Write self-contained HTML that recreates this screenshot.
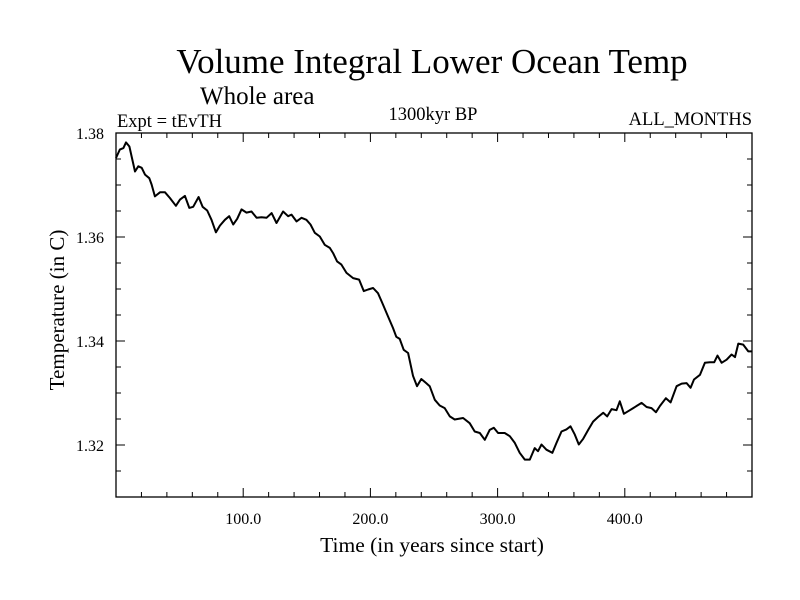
<!DOCTYPE html>
<html><head><meta charset="utf-8"><style>
body{margin:0;background:#fff}
svg{display:block;font-family:"Liberation Serif",serif}
</style></head><body>
<svg id="chart" width="800" height="600">
<text x="432" y="73" font-size="35" text-anchor="middle">Volume Integral Lower Ocean Temp</text>
<text x="200" y="104" font-size="25">Whole area</text>
<text x="117" y="127" font-size="18.5">Expt = tEvTH</text>
<text x="433" y="120" font-size="18.5" text-anchor="middle">1300kyr BP</text>
<text x="752" y="125" font-size="18.5" text-anchor="end">ALL_MONTHS</text>
<text x="432" y="552" font-size="21.5" text-anchor="middle">Time (in years since start)</text>
<text transform="translate(64,310) rotate(-90)" font-size="21" text-anchor="middle">Temperature (in C)</text>
<g id="axes"></g>
<g id="plot"></g>
</svg>
<script>
const years=[0,3,5.8,7.9,10.5,12.3,14.9,17.5,20.2,22.8,26.2,28,30.6,34.6,38.5,42.4,47.1,50.3,54.2,57.6,60.7,64.9,68.1,71.7,75.1,78.5,81.7,85.6,89,92.1,95.3,98.7,102.6,106.5,110.5,114.4,118.3,122.3,126.2,131.4,135.3,138,141.9,145.8,149.7,152.9,156.3,160.2,164.1,168.1,170.7,173.8,177.2,181.2,186.4,191.1,194.8,198.2,202.1,206,209.9,213.9,217.8,220.4,223,226.2,229.6,233.5,236.6,240,243.9,246.6,250.6,254.5,258.4,262.4,266.3,272.9,278.1,282,286,289.9,293.8,297,300.4,305.6,309.6,313.5,317.4,321.4,325.3,329.2,331.8,334.5,338.4,343.1,346.3,350.2,354.1,357.3,360.7,363.8,367.3,371.2,375.1,379.1,383,386.2,389.6,393.5,396.1,399.3,402.7,406.6,413.2,417.1,421,424.5,427.6,432.3,436,440.7,444.7,448.6,451.7,454.4,459.1,463,466.9,470.3,472.9,476.1,480,484,486.6,489.2,493.1,497.1,499.7];
const temps=[1.3752,1.3768,1.3771,1.3782,1.3774,1.3755,1.3726,1.3736,1.3733,1.3720,1.3713,1.3701,1.3678,1.3686,1.3686,1.3675,1.3660,1.3672,1.3679,1.3656,1.3658,1.3677,1.3658,1.3651,1.3633,1.3609,1.3622,1.3633,1.3640,1.3624,1.3635,1.3653,1.3647,1.3649,1.3637,1.3638,1.3637,1.3646,1.3627,1.3649,1.3640,1.3643,1.3630,1.3637,1.3633,1.3624,1.3608,1.3601,1.3585,1.3579,1.3569,1.3553,1.3547,1.3531,1.3521,1.3518,1.3496,1.3499,1.3502,1.3492,1.3470,1.3447,1.3425,1.3408,1.3404,1.3383,1.3377,1.3333,1.3313,1.3327,1.3319,1.3313,1.3287,1.3276,1.3271,1.3255,1.3249,1.3252,1.3242,1.3226,1.3223,1.3210,1.3229,1.3233,1.3223,1.3223,1.3217,1.3204,1.3185,1.3172,1.3172,1.3194,1.3188,1.3201,1.3191,1.3185,1.3204,1.3226,1.3230,1.3236,1.3220,1.3201,1.3212,1.3229,1.3245,1.3254,1.3262,1.3255,1.3269,1.3267,1.3284,1.3260,1.3265,1.3271,1.3281,1.3273,1.3271,1.3263,1.3275,1.3290,1.3282,1.3313,1.3318,1.3319,1.3310,1.3326,1.3335,1.3358,1.3359,1.3359,1.3372,1.3358,1.3364,1.3374,1.3369,1.3395,1.3393,1.3380,1.3380];
const xTicks=[100,200,300,400];
const xTickLabels=["100.0","200.0","300.0","400.0"];
const yTicks=[1.32,1.34,1.36,1.38];
const yTickLabels=["1.32","1.34","1.36","1.38"];
const X0=116,X1=752,Y0=497,Y1=133,xmin=0,xmax=500,ymin=1.31,ymax=1.38;
const sx=v=>X0+(v-xmin)/(xmax-xmin)*(X1-X0);
const sy=v=>Y0-(v-ymin)/(ymax-ymin)*(Y0-Y1);
const NS="http://www.w3.org/2000/svg";
const axes=document.getElementById('axes'),plot=document.getElementById('plot');
function mk(tag,attrs,parent){const e=document.createElementNS(NS,tag);for(const k in attrs)e.setAttribute(k,attrs[k]);parent.appendChild(e);return e;}
const frame=mk('rect',{x:X0,y:Y1,width:X1-X0,height:Y0-Y1,fill:'none',stroke:'#000','stroke-width':1.3},axes);


let d='';
for(let v=0;v<=500;v+=20){const major=v%100===0,len=major?9:5,x=sx(v);d+=`M${x},${Y0}v${-len}M${x},${Y1}v${len}`;}
for(let i=0;i<=14;i++){const v=ymin+i*0.005,major=Math.abs((v*100)%2)<1e-6||Math.abs((v*100)%2-2)<1e-6,len=major?9:5,y=sy(v);d+=`M${X0},${y}h${len}M${X1},${y}h${-len}`;}
const ticks=mk('path',{d:d,stroke:'#000','stroke-width':1,fill:'none'},axes);


xTicks.forEach((v,i)=>{const t=mk('text',{x:sx(v),y:524,'font-size':16,'text-anchor':'middle'},axes);t.textContent=xTickLabels[i];

});
yTicks.forEach((v,i)=>{const t=mk('text',{x:104,y:sy(v)+6,'font-size':16,'text-anchor':'end'},axes);t.textContent=yTickLabels[i];

});
const pts=years.map((x,i)=>sx(x).toFixed(1)+','+sy(temps[i]).toFixed(1)).join(' ');
const line=mk('polyline',{points:pts,fill:'none',stroke:'#000','stroke-width':2,'stroke-linejoin':'round'},plot);


</script>
</body></html>
